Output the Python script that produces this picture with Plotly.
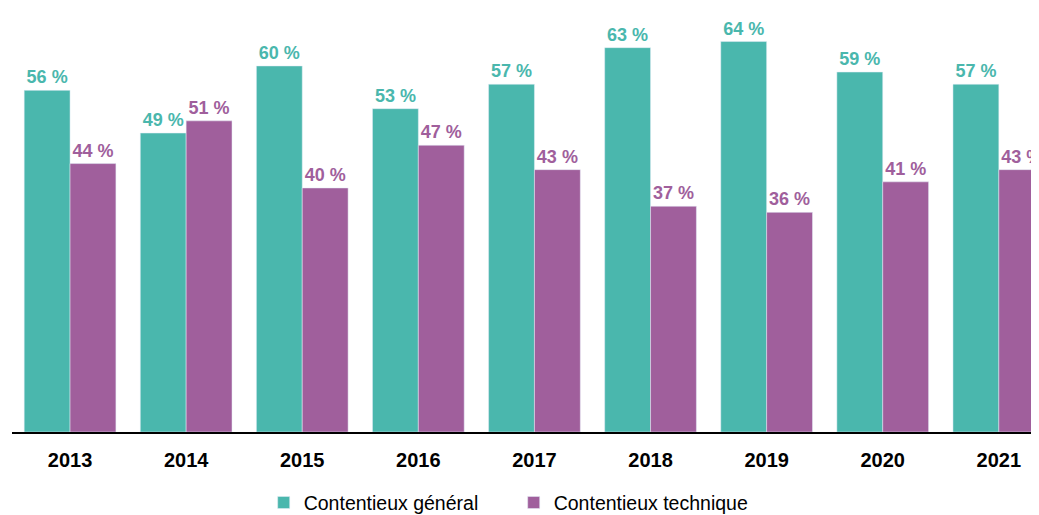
import plotly.graph_objects as go

YEARS = ["2013", "2014", "2015", "2016", "2017", "2018", "2019", "2020", "2021"]
GENERAL = [56, 49, 60, 53, 57, 63, 64, 59, 57]
TECHNIQUE = [44, 51, 40, 47, 43, 37, 36, 41, 43]

TEAL = "#4AB7AD"
PURPLE = "#A05F9C"
FONT = "Liberation Sans, Arial, sans-serif"

fig = go.Figure()
fig.add_trace(go.Bar(
    x=YEARS, y=GENERAL, name="Contentieux général",
    marker_color=TEAL,
    texttemplate="<b>%{y} %</b>", textposition="outside",
    textfont=dict(color=TEAL, size=18, family=FONT),
    constraintext="none",
))
fig.add_trace(go.Bar(
    x=YEARS, y=TECHNIQUE, name="Contentieux technique",
    marker_color=PURPLE,
    texttemplate="<b>%{y} %</b>", textposition="outside",
    textfont=dict(color=PURPLE, size=18, family=FONT),
    constraintext="none",
))

# page body has an 8px margin, so the figure is a bit smaller than the window
fig.update_layout(
    width=1031, height=507,
    margin=dict(l=4, r=0, t=0, b=83, autoexpand=False),
    barmode="group", bargap=0.21, bargroupgap=0,
    plot_bgcolor="white", paper_bgcolor="white",
    font=dict(family=FONT, color="black"),
    xaxis=dict(
        type="category", range=[-0.5, 8.346],
        showline=True, linecolor="black", linewidth=1.5,
        ticks="", tickfont=dict(size=20, family=FONT, weight="bold"),
        ticklabelstandoff=9,
    ),
    yaxis=dict(range=[0, 69.5], visible=False, showgrid=False),
    legend=dict(
        orientation="h", xref="container", x=0.248, xanchor="left",
        yref="container", y=0.024, yanchor="middle",
        font=dict(size=19.5, family=FONT),
        entrywidth=205, entrywidthmode="pixels",
    ),
)

fig.write_html("out.html")
